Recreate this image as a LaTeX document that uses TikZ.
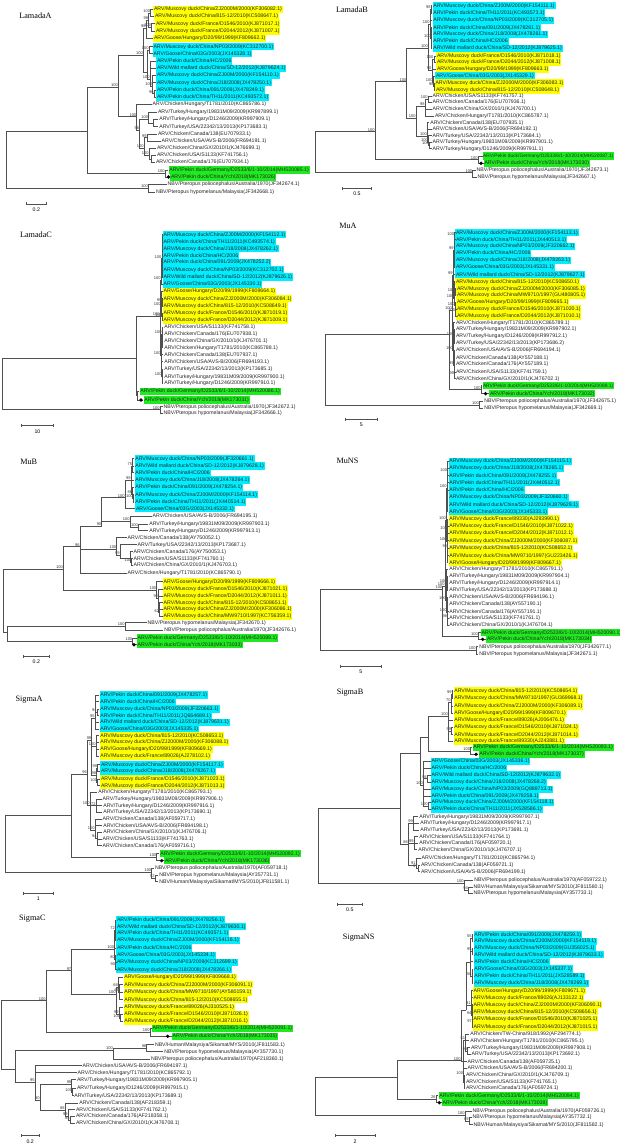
\documentclass[tikz,border=0pt]{standalone}
\usepackage{fontspec}
\setmainfont{Liberation Serif}
\newfontfamily\labfont{Liberation Sans}
\definecolor{Y}{RGB}{255,255,0}
\definecolor{C}{RGB}{0,238,255}
\definecolor{G}{RGB}{30,235,30}
\definecolor{brc}{RGB}{80,80,80}
\newcommand\lab{\labfont\fontsize{5.2}{6}\selectfont}
\newcommand\labn{\labfont\fontsize{4.85}{6}\selectfont}
\newcommand\bsf{\labfont\fontsize{4}{4.5}\selectfont}
\tikzset{
 lf/.style={anchor=west,inner xsep=0.8pt,inner ysep=1.1pt,text height=3.9pt,text depth=1.1pt,font=\lab,text=black!85},
 narrow/.style={font=\labn,inner xsep=0.5pt},
 br/.style={draw=brc,line width=0.5pt},
 bs/.style={anchor=south east,inner sep=0.3pt,font=\bsf,text=black!80},
 ttl/.style={font=\fontsize{8.2}{9}\selectfont},
 sclab/.style={anchor=north,inner sep=0.5pt,font=\lab},
}
\newcommand\Lf[5]{\node[lf,fill=#4] (#1) at (#2,#3) {#5};}
\newcommand\LfN[5]{\node[lf,narrow,fill=#4] (#1) at (#2,#3) {#5};}
\newcommand\Nd[4]{\coordinate (#1) at (#2,#3); \node[bs] (#1-b) at (#1) {#4};}
\newcommand\Br[2]{\foreach \ch in {#2}{\draw[br] (#1) |- (\ch);}}
\newcommand\Dt[2]{\fill (#1,#2) circle[radius=1.8pt];}
\newcommand\Sc[5]{\draw[br] (#1,#3) -- (#2,#3); \draw[br] (#1,#3-1.5) -- (#1,#3+1.5); \draw[br] (#2,#3-1.5) -- (#2,#3+1.5); \node[sclab] (#5) at ({(#1+#2)/2},#3+3) {#4};}
\begin{document}
\begin{tikzpicture}[x=1pt,y=-1pt]
\fill[white] (0,0) rectangle (619,1147);
\useasboundingbox (0,0) rectangle (619,1147);
% ================= LamadaA =================
\node[ttl] (tA) at (35.5,16) {LamadaA};
\Lf{a1}{153}{9.5}{Y}{ARV/Muscovy duck/China/ZJ2000M/2000(KF306082.1)}
\Lf{a2}{154}{16.5}{Y}{ARV/Muscovy duck/China/815-12/2010(KC508647.1)}
\Lf{a3}{155}{23.7}{Y}{ARV/Muscovy duck/France/D1546/2010(KJ871017.1)}
\Lf{a4}{155}{31}{Y}{ARV/Muscovy duck/France/D2044/2012(KJ871007.1)}
\Lf{a5}{153}{38.5}{Y}{ARV/Goose/Hungary/D20/99/1999(KF809662.1)}
\Lf{a6}{152.5}{46.7}{C}{ARV/Muscovy duck/China/NP03/2009(KC312700.1)}
\Lf{a7}{152.5}{53.7}{C}{ARV/Goose/China/03G/2003(JX145328.1)}
\Lf{a8}{156}{61}{C}{ARV/Pekin duck/China/HC/2006}
\Lf{a9}{156}{68.3}{C}{ARV/Wild mallard duck/China/SD-12/2012(KJ879624.1)}
\Lf{a10}{156}{75.3}{C}{ARV/Muscovy duck/China/ZJ00M/2000(KF154110.1)}
\Lf{a11}{156}{82.7}{C}{ARV/Muscovy duck/China/J18/2008(JX478250.1)}
\Lf{a12}{156}{90}{C}{ARV/Pekin duck/China/091/2009(JX478249.1)}
\Lf{a13}{156}{97.3}{C}{ARV/Pekin duck/China/TH11/2011(KC493572.1)}
\Lf{a14}{151.7}{104.3}{none}{ARV/Chicken/Hungary/T1781/2010(KC865786.1)}
\Lf{a15}{157}{112.3}{none}{ARV/Turkey/Hungary/19831M09/2009(KR997899.1)}
\Lf{a16}{158.3}{119.3}{none}{ARV/Turkey/Hungary/D1246/2009(KR997909.1)}
\Lf{a17}{158.3}{126.7}{none}{ARV/Turkey/USA/22342/13/2013(KP173683.1)}
\Lf{a18}{157}{134}{none}{ARV/Chicken/Canada/138(EU707933.1)}
\Lf{a19}{160.7}{141.3}{none}{ARV/Chicken/USA/AVS-B/2006(FR694191.1)}
\Lf{a20}{156}{148}{none}{ARV/Chicken/China/GX/2010/1(KJ476699.1)}
\Lf{a21}{156}{155.3}{none}{ARV/Chicken/USA/S1133(KF741756.1)}
\Lf{a22}{155}{162.3}{none}{ARV/Chicken/Canada/176(EU707934.1)}
\Lf{a23}{168.3}{170}{G}{ARV/Pekin duck/Germany/D2533/6/1-10/2014(MH520085.1)}
\Lf{a24}{170}{177}{G}{ARV/Pekin duck/China/Ych/2018(MK173026)}
\Lf{a25}{166.7}{184.3}{none}{NBV/Pteropus poliocephalus/Australia/1970(JF342674.1)}
\Lf{a26}{155}{192}{none}{NBV/Pteropus hypomelanus/Malaysia(JF342668.1)}
\Nd{aR}{6}{160}{}
\Nd{aNB}{148.3}{188}{100}
\Nd{aN1}{87.3}{131.7}{}
\Nd{aG}{165}{173.5}{100}
\Nd{aN2}{118.3}{87.3}{100}
\Nd{aD}{143.3}{55}{100}
\Nd{aY}{146}{28}{98}
\Nd{aY1}{148.5}{20}{98}
\Nd{aY2}{150.5}{13}{100}
\Nd{aY3}{151.5}{27.4}{100}
\Nd{aCy}{147}{72}{}
\Nd{aCy1}{149}{50.2}{100}
\Nd{aCy2}{150}{79}{100}
\Nd{aCy3}{152.5}{86}{100}
\Nd{aCy4}{154}{93.7}{96}
\Nd{aK}{136.7}{116.7}{100}
\Nd{aK2}{139.5}{130}{96}
\Nd{aT}{148.5}{119}{100}
\Nd{aT2}{153}{123}{}
\Nd{aC}{144}{148}{100}
\Nd{aC1}{147}{137.7}{99}
\Nd{aC2}{149}{155}{100}
\Nd{aC3}{151.5}{158.8}{}
\Br{aR}{aN1,aNB}
\Br{aNB}{a25,a26}
\Br{aN1}{aN2,aG}
\Br{aG}{a23,a24}
\Br{aN2}{aD,aK}
\Br{aD}{aY,aCy}
\Br{aY}{aY1,a5}
\Br{aY1}{aY2,aY3}
\Br{aY2}{a1,a2}
\Br{aY3}{a3,a4}
\Br{aCy}{aCy1,aCy2}
\Br{aCy1}{a6,a7}
\Br{aCy2}{a8,a9,aCy3}
\Br{aCy3}{a10,a11,aCy4}
\Br{aCy4}{a12,a13}
\Br{aK}{a14,aK2}
\Br{aK2}{aT,aC}
\Br{aT}{a15,aT2}
\Br{aT2}{a16,a17}
\Br{aC}{aC1,aC2}
\Br{aC1}{a18,a19}
\Br{aC2}{a20,aC3}
\Br{aC3}{a21,a22}
\Dt{168.5}{177}
\Sc{26}{46.7}{204}{0.2}{sA}
% ================= LamadaB =================
\node[ttl] (tB) at (352,10) {LamadaB};
\Lf{b1}{432.3}{5.7}{C}{ARV/Muscovy duck/China/ZJ00M/2000(KF154111.1)}
\Lf{b2}{432.3}{13}{C}{ARV/Pekin duck/China/TH11/2011(KC493573.1)}
\Lf{b3}{432.3}{20.3}{C}{ARV/Muscovy duck/China/NP03/2009(KC312705.1)}
\Lf{b4}{432.3}{27.7}{C}{ARV/Pekin duck/China/091/2009(JX478261.1)}
\Lf{b5}{432.3}{34.5}{C}{ARV/Muscovy duck/China/J18/2008(JX478261.1)}
\Lf{b6}{432.3}{41.3}{C}{ARV/Pekin duck/China/HC/2006}
\Lf{b7}{432.3}{48.3}{C}{ARV/Wild mallard duck/China/SD-12/2012(KJ879625.1)}
\Lf{b8}{436}{56}{Y}{ARV/Muscovy duck/France/D1546/2010(KJ871018.1)}
\Lf{b9}{436}{62.5}{Y}{ARV/Muscovy duck/France/D2044/2012(KJ871008.1)}
\Lf{b10}{436}{69}{Y}{ARV/Goose/Hungary/D20/99/1999(KF809663.1)}
\Lf{b11}{435}{75.8}{C}{ARV/Goose/China/03G/2003(JX145329.1)}
\Lf{b12}{434.5}{83}{Y}{ARV/Muscovy duck/China/ZJ2000M/2000(KF306083.1)}
\Lf{b13}{435}{90}{Y}{ARV/Muscovy duck/China/815-12/2010(KC508648.1)}
\Lf{b14}{431.7}{96.3}{none}{ARV/Chicken/USA/S1133(KF741757.1)}
\Lf{b15}{431.7}{102.6}{none}{ARV/Chicken/Canada/176(EU707936.1)}
\Lf{b16}{431.7}{109.3}{none}{ARV/Chicken/China/GX/2010/1(KJ476700.1)}
\Lf{b17}{434}{116}{none}{ARV/Chicken/Hungary/T1781/2010(KC865787.1)}
\Lf{b18}{429.3}{122.7}{none}{ARV/Chicken/Canada/138(EU707935.1)}
\Lf{b19}{431.7}{129.3}{none}{ARV/Chicken/USA/AVS-B/2006(FR694192.1)}
\Lf{b20}{431.7}{135.7}{none}{ARV/Turkey/USA/22342/13/2013(KP173684.1)}
\Lf{b21}{431.7}{142.3}{none}{ARV/Turkey/Hungary/19831M09/2009(KR997901.1)}
\Lf{b22}{431.7}{148.7}{none}{ARV/Turkey/Hungary/D1246/2009(KR997911.1)}
\LfN{b23}{482.5}{156}{G}{ARV/Pekin duck/Germany/D2533/6/1-10/2014(MH520087.1)}
\Lf{b24}{483.5}{163.3}{G}{ARV/Pekin duck/China/Ych/2018(MK173030)}
\Lf{b25}{475.7}{170}{none}{NBV/Pteropus poliocephalus/Australia/1970(JF342673.1)}
\Lf{b26}{476.7}{177}{none}{NBV/Pteropus hypomelanus/Malaysia(JF342667.1)}
\Nd{bR}{315}{150}{}
\Nd{bNB}{472.7}{172.7}{100}
\Nd{bN1}{375}{131.7}{100}
\Nd{bG}{478}{159.7}{100}
\Nd{bN2}{406.7}{81.7}{100}
\Nd{bD}{428.3}{48.3}{100}
\Nd{bC1}{430}{24}{100}
\Nd{bC2}{431}{9.3}{98}
\Nd{bC3}{431.3}{38}{100}
\Nd{bYC}{431.8}{70}{90}
\Nd{bY1}{433.8}{59.2}{100}
\Nd{bY2}{433}{82.5}{100}
\Nd{bY3}{434}{86.5}{98}
\Nd{bK}{416}{118.3}{100}
\Nd{bK1}{425}{106}{98}
\Nd{bK3}{428}{99.5}{100}
\Nd{bK2}{427.3}{136}{100}
\Nd{bT}{428.3}{142}{100}
\Nd{bT2}{429.3}{145.5}{100}
\Br{bR}{bN1,bNB}
\Br{bNB}{b25,b26}
\Br{bN1}{bN2,bG}
\Br{bG}{b23,b24}
\Br{bN2}{bD,bK}
\Br{bD}{bC1,bYC}
\Br{bC1}{bC2,b3,bC3}
\Br{bC2}{b1,b2}
\Br{bC3}{b4,b5,b6,b7}
\Br{bYC}{bY1,b10,bY2}
\Br{bY1}{b8,b9}
\Br{bY2}{b11,bY3}
\Br{bY3}{b12,b13}
\Br{bK}{bK1,bK2}
\Br{bK1}{bK3,b16,b17}
\Br{bK3}{b14,b15}
\Br{bK2}{b18,b19,bT}
\Br{bT}{b20,bT2}
\Br{bT2}{b21,b22}
\Dt{481}{163.3}
\Sc{342.3}{371.7}{188.3}{0.5}{sB}
% ================= LamadaC =================
\node[ttl] (tC) at (36,234.7) {LamadaC};
\Lf{c1}{162.7}{234.7}{C}{ARV/Muscovy duck/China/ZJ00M/2000(KF154112.1)}
\Lf{c2}{162.7}{241.7}{C}{ARV/Pekin duck/China/TH11/2011(KC493574.1)}
\Lf{c3}{162.7}{248.7}{C}{ARV/Muscovy duck/China/J18/2008(JX478262.1)}
\Lf{c4}{162.7}{255.7}{C}{ARV/Pekin duck/China/HC/2006}
\Lf{c5}{162.7}{262.5}{C}{ARV/Pekin duck/China/091/2009(JX478252.2)}
\Lf{c6}{162.7}{269.7}{C}{ARV/Muscovy duck/China/NP03/2009(KC312702.1)}
\Lf{c7}{162.7}{277}{C}{ARV/Wild mallard duck/China/SD-12/2012(KJ879626.1)}
\Lf{c8}{162.7}{284}{C}{ARV/Goose/China/03G/2003(JX145330.1)}
\Lf{c9}{162.7}{291.3}{Y}{ARV/Goose/Hungary/D20/99/1999(KF809664.1)}
\Lf{c10}{162.7}{298.7}{Y}{ARV/Muscovy duck/China/ZJ2000M/2000(KF306084.1)}
\Lf{c11}{162.7}{306}{Y}{ARV/Muscovy duck/China/815-12/2010(KC508649.1)}
\Lf{c12}{162.7}{313.3}{Y}{ARV/Muscovy duck/France/D1546/2010(KJ871019.1)}
\Lf{c13}{162.7}{320.3}{Y}{ARV/Muscovy duck/France/D2044/2012(KJ871009.1)}
\Lf{c14}{163.3}{327.3}{none}{ARV/Chicken/USA/S1133(KF741758.1)}
\Lf{c15}{163.3}{334}{none}{ARV/Chicken/Canada/176(EU707938.1)}
\Lf{c16}{163.3}{341}{none}{ARV/Chicken/China/GX/2010/1(KJ476701.1)}
\Lf{c17}{163.3}{347.7}{none}{ARV/Chicken/Hungary/T1781/2010(KC865788.1)}
\Lf{c18}{163.3}{354.7}{none}{ARV/Chicken/Canada/138(EU707937.1)}
\Lf{c19}{163.3}{361.7}{none}{ARV/Chicken/USA/AVS-B/2006(FR694193.1)}
\Lf{c20}{163.3}{369.3}{none}{ARV/Turkey/USA/22342/13/2013(KP173685.1)}
\Lf{c21}{163.3}{376.7}{none}{ARV/Turkey/Hungary/19831M09/2009(KR997900.1)}
\Lf{c22}{163.3}{383.3}{none}{ARV/Turkey/Hungary/D1246/2009(KR997910.1)}
\Lf{c23}{139.3}{391.5}{G}{ARV/Pekin duck/Germany/D2533/6/1-10/2014(MH520086.1)}
\Lf{c24}{143.3}{400}{G}{ARV/Pekin duck/China/Ych/2018(MK173031)}
\Lf{c25}{162.7}{406.7}{none}{NBV/Pteropus poliocephalus/Australia/1970(JF342672.1)}
\Lf{c26}{162.7}{413.3}{none}{NBV/Pteropus hypomelanus/Malaysia(JF342666.1)}
\Nd{cR}{2.7}{380}{}
\Nd{cNB}{160}{409.7}{100}
\Nd{cN1}{136}{358}{}
\Nd{cG}{137.5}{395.5}{}
\Nd{cN2}{160}{316.3}{100}
\Nd{cD}{161}{280}{100}
\Nd{cC}{161.8}{258.7}{100}
\Nd{cY}{161}{306}{100}
\Nd{cY1}{161.8}{302}{99}
\Nd{cY2}{162.2}{316.7}{100}
\Nd{cK}{161}{355}{100}
\Nd{cK1}{162}{334}{100}
\Nd{cK2}{162}{376}{100}
\Br{cR}{cN1,cNB}
\Br{cNB}{c25,c26}
\Br{cN1}{cN2,cG}
\Br{cG}{c23,c24}
\Br{cN2}{cD,cY,cK}
\Br{cD}{cC,c8}
\Br{cC}{c1,c2,c3,c4,c5,c6,c7}
\Br{cY}{c9,cY1,cY2}
\Br{cY1}{c10,c11}
\Br{cY2}{c12,c13}
\Br{cK}{cK1,c18,c19,cK2}
\Br{cK1}{c14,c15,c16,c17}
\Br{cK2}{c20,c21,c22}
\Dt{141}{400}
\Sc{21.7}{53.3}{425.7}{10}{sC}
% ================= MuA =================
\node[ttl] (tD) at (348,226) {MuA};
\Lf{m1}{455}{232.7}{C}{ARV/Muscovy duck/China/ZJ00M/2000(KF154113.1)}
\Lf{m2}{455}{239.7}{C}{ARV/Pekin duck/China/TH11/2011(JX440513.1)}
\Lf{m3}{455}{246.3}{C}{ARV/Muscovy duck/China/NP03/2009(JF320662.1)}
\Lf{m4}{455}{253}{C}{ARV/Pekin duck/China/HC/2006}
\Lf{m5}{455}{260.3}{C}{ARV/Muscovy duck/China/J18/2008(JX478263.1)}
\Lf{m6}{455}{267.3}{C}{ARV/Goose/China/03G/2003(JX145331.1)}
\Lf{m7}{455}{274.7}{C}{ARV/Wild mallard duck/China/SD-12/2012(KJ879627.1)}
\Lf{m8}{455}{281.7}{Y}{ARV/Muscovy duck/China/815-12/2010(KC508650.1)}
\Lf{m9}{456}{288.7}{Y}{ARV/Muscovy duck/China/ZJ2000M/2000(KF306085.1)}
\Lf{m10}{456}{295.3}{Y}{ARV/Muscovy duck/China/MW9710/1997(GU480805.1)}
\Lf{m11}{456}{302.3}{Y}{ARV/Goose/Hungary/D20/99/1999(KF809665.1)}
\Lf{m12}{456}{309}{Y}{ARV/Muscovy duck/France/D1546/2010(KJ871020.1)}
\Lf{m13}{456}{316}{Y}{ARV/Muscovy duck/France/D2044/2012(KJ871010.1)}
\Lf{m14}{455}{322.7}{none}{ARV/Chicken/Hungary/T1781/2010(KC865789.1)}
\Lf{m15}{455}{329.3}{none}{ARV/Turkey/Hungary/19831M09/2009(KR997902.1)}
\Lf{m16}{455}{336.3}{none}{ARV/Turkey/Hungary/D1246/2009(KR997912.1)}
\Lf{m17}{455}{343.3}{none}{ARV/Turkey/USA/22342/13/2013(KP173686.2)}
\Lf{m18}{455}{350.3}{none}{ARV/Chicken/USA/AVS-B/2006(FR694194.1)}
\Lf{m19}{455}{357.7}{none}{ARV/Chicken/Canada/138(AY557188.1)}
\Lf{m20}{455}{364.3}{none}{ARV/Chicken/Canada/176(AY557189.1)}
\Lf{m21}{455}{372}{none}{ARV/Chicken/USA/S1133(KF741759.1)}
\Lf{m22}{455}{378.7}{none}{ARV/Chicken/China/GX/2010/1(KJ476702.1)}
\LfN{m23}{482.3}{385.7}{G}{ARV/Pekin duck/Germany/D2533/6/1-10/2014(MH520089.1)}
\Lf{m24}{489}{393.7}{G}{ARV/Pekin duck/China/Ych/2018(MK173032)}
\Lf{m25}{483.3}{401.3}{none}{NBV/Pteropus poliocephalus/Australia/1970(JF342675.1)}
\Lf{m26}{483.3}{408.3}{none}{NBV/Pteropus hypomelanus/Malaysia(JF342669.1)}
\Nd{mR}{325.7}{370}{}
\Nd{mNB}{479.3}{404.8}{100}
\Nd{mN1}{449.3}{334}{}
\Nd{mG}{481}{389.7}{100}
\Nd{mN2}{452.3}{310}{100}
\Nd{mD}{453}{275}{99}
\Nd{mC}{454}{250}{99}
\Nd{mC1}{454.5}{236}{100}
\Nd{mY}{454}{298}{100}
\Nd{mY1}{455}{292}{100}
\Nd{mY2}{455}{305.7}{100}
\Nd{mY3}{455.5}{312.5}{100}
\Nd{mK}{453.3}{350}{100}
\Nd{mK1}{454}{336}{100}
\Nd{mK2}{454}{365}{99}
\Nd{mK3}{454.5}{375.3}{99}
\Br{mR}{mN1,mNB}
\Br{mNB}{m25,m26}
\Br{mN1}{mN2,mG}
\Br{mG}{m23,m24}
\Br{mN2}{mD,mK}
\Br{mD}{mC,m7,mY}
\Br{mC}{mC1,m3,m4,m5,m6}
\Br{mC1}{m1,m2}
\Br{mY}{m8,mY1,mY2}
\Br{mY1}{m9,m10}
\Br{mY2}{m11,mY3}
\Br{mY3}{m12,m13}
\Br{mK}{m14,mK1,mK2}
\Br{mK1}{m15,m16,m17}
\Br{mK2}{m18,m19,m20,mK3}
\Br{mK3}{m21,m22}
\Dt{485.5}{393.7}
\Sc{345}{377.7}{419.7}{5}{sD}
% ================= MuB =================
\node[ttl] (tE) at (28.7,462) {MuB};
\Lf{n1}{134.3}{458.7}{C}{ARV/Muscovy duck/China/NP03/2009(JF320661.1)}
\Lf{n2}{134.3}{466}{C}{ARV/Wild mallard duck/China/SD-12/2012(KJ879628.1)}
\Lf{n3}{134.3}{472.7}{C}{ARV/Pekin duck/China/HC/2006}
\Lf{n4}{134.3}{480}{C}{ARV/Muscovy duck/China/J18/2008(JX478264.1)}
\Lf{n5}{134.3}{487.3}{C}{ARV/Pekin duck/China/091/2009(JX478254.1)}
\Lf{n6}{134.3}{494.7}{C}{ARV/Muscovy duck/China/ZJ00M/2000(KF154114.1)}
\Lf{n7}{134.3}{502}{C}{ARV/Pekin duck/China/TH11/2011(JX440514.1)}
\Lf{n8}{135}{508.7}{C}{ARV/Goose/China/03G/2003(JX145332.1)}
\Lf{n9}{151.7}{516}{none}{ARV/Chicken/USA/AVS-B/2006(FR694195.1)}
\Lf{n10}{148.3}{524.3}{none}{ARV/Turkey/Hungary/19831M09/2009(KR997903.1)}
\Lf{n11}{148.3}{530.7}{none}{ARV/Turkey/Hungary/D1246/2009(KR997913.1)}
\Lf{n12}{126.7}{537.7}{none}{ARV/Chicken/Canada/138(AY750052.1)}
\Lf{n13}{136.7}{544.7}{none}{ARV/Turkey/USA/22342/13/2013(KP173687.1)}
\Lf{n14}{132.7}{551.7}{none}{ARV/Chicken/Canada/176(AY750053.1)}
\Lf{n15}{132.7}{558.7}{none}{ARV/Chicken/USA/S1133(KF741760.1)}
\Lf{n16}{132.7}{565.3}{none}{ARV/Chicken/China/GX/2010/1(KJ476703.1)}
\Lf{n17}{126.7}{573.3}{none}{ARV/Chicken/Hungary/T1781/2010(KC865790.1)}
\Lf{n18}{162.7}{581.7}{Y}{ARV/Goose/Hungary/D20/99/1999(KF809666.1)}
\Lf{n19}{162.7}{589}{Y}{ARV/Muscovy duck/France/D1546/2010(KJ871021.1)}
\Lf{n20}{162.7}{596}{Y}{ARV/Muscovy duck/France/D2044/2012(KJ871011.1)}
\Lf{n21}{162.7}{602.7}{Y}{ARV/Muscovy duck/China/815-12/2010(KC508651.1)}
\Lf{n22}{162.7}{609.3}{Y}{ARV/Muscovy duck/China/ZJ2000M/2000(KF306086.1)}
\Lf{n23}{162.7}{616}{Y}{ARV/Muscovy duck/China/MW9710/1997(KC756359.1)}
\Lf{n24}{146.7}{622.7}{none}{NBV/Pteropus hypomelanus/Malaysia(JF342670.1)}
\Lf{n25}{163.3}{630}{none}{NBV/Pteropus poliocephalus/Australia/1970(JF342676.1)}
\Lf{n26}{136.7}{638}{G}{ARV/Pekin duck/Germany/D2533/6/1-10/2014(MH520089.1)}
\Lf{n27}{136.7}{644.7}{G}{ARV/Pekin duck/China/Ych/2018(MK173033)}
\Nd{nR}{3.3}{600}{}
\Nd{nA}{63.3}{569.3}{100}
\Nd{nL}{7.3}{632.7}{}
\Nd{nB}{80}{546.7}{96}
\Nd{nC}{101.7}{526}{90}
\Nd{nCy}{125}{497.7}{100}
\Nd{nCy1}{131}{480}{99}
\Nd{nCy2}{132.5}{466}{75}
\Nd{nCy3}{132.5}{494}{86}
\Nd{nCy4}{133.3}{498.3}{100}
\Nd{nT}{130}{521}{100}
\Nd{nT2}{138.3}{527.5}{100}
\Nd{nK}{116.7}{549}{100}
\Nd{nK1}{120}{555}{99}
\Nd{nK2}{130}{558.7}{}
\Nd{nK3}{131.7}{562}{100}
\Nd{nY}{156.7}{590}{100}
\Nd{nY1}{158.5}{598}{92}
\Nd{nY2}{159.5}{612.7}{62}
\Nd{nNB}{125}{626}{100}
\Nd{nG}{132.7}{641.3}{100}
\Br{nR}{nA,nL}
\Br{nA}{nB,nY}
\Br{nB}{nC,nK,n17}
\Br{nC}{nCy,nT}
\Br{nCy}{nCy1,n8}
\Br{nCy1}{nCy2,n4,nCy3}
\Br{nCy2}{n1,n2,n3}
\Br{nCy3}{n5,nCy4}
\Br{nCy4}{n6,n7}
\Br{nT}{n9,nT2}
\Br{nT2}{n10,n11}
\Br{nK}{n12,nK1}
\Br{nK1}{n13,nK2}
\Br{nK2}{n14,nK3}
\Br{nK3}{n15,n16}
\Br{nY}{n18,nY1}
\Br{nY1}{n19,n20,nY2}
\Br{nY2}{n21,n22,n23}
\Br{nL}{nNB,nG}
\Br{nNB}{n24,n25}
\Br{nG}{n26,n27}
\Dt{134}{644.7}
\Sc{23.3}{49.3}{656}{0.2}{sE}
% ================= MuNS =================
\node[ttl] (tF) at (347.5,460.7) {MuNS};
\Lf{s1}{448.3}{461.3}{C}{ARV/Muscovy duck/China/ZJ00M/2000(KF154115.1)}
\Lf{s2}{448.3}{468.3}{C}{ARV/Muscovy duck/China/J18/2008(JX478265.1)}
\Lf{s3}{448.3}{475.7}{C}{ARV/Pekin duck/China/091/2009(JX478255.1)}
\Lf{s4}{448.3}{482.7}{C}{ARV/Pekin duck/China/TH11/2011(JX440512.1)}
\Lf{s5}{448.3}{490}{C}{ARV/Pekin duck/China/HC/2006}
\Lf{s6}{448.3}{497.3}{C}{ARV/Muscovy duck/China/NP03/2009(JF320660.1)}
\Lf{s7}{448.3}{504.7}{C}{ARV/Wild mallard duck/China/SD-12/2012(KJ879629.1)}
\Lf{s8}{448.3}{511.7}{C}{ARV/Goose/China/03G/2003(JX145333.1)}
\Lf{s9}{448.3}{519}{Y}{ARV/Muscovy duck/France/89330(AJ293990.1)}
\Lf{s10}{448.3}{526.3}{Y}{ARV/Muscovy duck/France/D1546/2010(KJ871022.1)}
\Lf{s11}{448.3}{533.3}{Y}{ARV/Muscovy duck/France/D2044/2012(KJ871012.1)}
\Lf{s12}{448.3}{540.7}{Y}{ARV/Muscovy duck/China/ZJ2000M/2000(KF306087.1)}
\Lf{s13}{448.3}{548.3}{Y}{ARV/Muscovy duck/China/815-12/2010(KC508652.1)}
\Lf{s14}{448.3}{555.7}{Y}{ARV/Muscovy duck/China/MW9710/1997(GU223426.1)}
\Lf{s15}{448.3}{562.7}{Y}{ARV/Goose/Hungary/D20/99/1999(KF809667.1)}
\Lf{s16}{448.3}{569}{none}{ARV/Chicken/Hungary/T1781/2010(KC865791.1)}
\Lf{s17}{448.3}{576}{none}{ARV/Turkey/Hungary/19831M09/2009(KR997904.1)}
\Lf{s18}{448.3}{582.7}{none}{ARV/Turkey/Hungary/D1246/2009(KR997914.1)}
\Lf{s19}{448.3}{590}{none}{ARV/Turkey/USA/22342/13/2013(KP173688.1)}
\Lf{s20}{448.3}{597.3}{none}{ARV/Chicken/USA/AVS-B/2006(FR694196.1)}
\Lf{s21}{448.3}{604.3}{none}{ARV/Chicken/Canada/138(AY557190.1)}
\Lf{s22}{448.3}{611.7}{none}{ARV/Chicken/Canada/176(AY557191.1)}
\Lf{s23}{448.3}{618.3}{none}{ARV/Chicken/USA/S1133(KF741761.1)}
\Lf{s24}{448.3}{625}{none}{ARV/Chicken/China/GX/2010/1(KJ476704.1)}
\Lf{s25}{480.7}{632.7}{G}{ARV/Pekin duck/Germany/D2533/6/1-10/2014(MH520090.1)}
\Lf{s26}{486}{639.3}{G}{ARV/Pekin duck/China/Ych/2018(MK173034)}
\Lf{s27}{478.3}{646.7}{none}{NBV/Pteropus poliocephalus/Australia/1970(JF342677.1)}
\Lf{s28}{478.3}{654}{none}{NBV/Pteropus hypomelanus/Malaysia(JF342671.1)}
\Nd{sR}{320}{620}{}
\Nd{sNB}{476}{650}{100}
\Nd{sN1}{442.7}{589.3}{100}
\Nd{sG}{478.3}{636}{100}
\Nd{sN2}{445}{586}{100}
\Nd{sD}{446.3}{520}{100}
\Nd{sC}{447}{488}{100}
\Nd{sC1}{447.5}{472}{100}
\Nd{sY}{447}{541}{100}
\Nd{sY1}{447.6}{530}{100}
\Nd{sY2}{447.6}{548}{96}
\Nd{sK}{446.3}{600}{100}
\Nd{sK1}{447}{583}{100}
\Nd{sK2}{447}{612}{100}
\Nd{sK3}{447.5}{618}{98}
\Br{sR}{sN1,sNB}
\Br{sNB}{s27,s28}
\Br{sN1}{sN2,sG}
\Br{sG}{s25,s26}
\Br{sN2}{sD,sK}
\Br{sD}{sC,sY}
\Br{sC}{sC1,s6,s7,s8}
\Br{sC1}{s1,s2,s3,s4,s5}
\Br{sY}{s9,sY1,sY2,s15}
\Br{sY1}{s10,s11}
\Br{sY2}{s12,s13,s14}
\Br{sK}{s16,sK1,sK2}
\Br{sK1}{s17,s18,s19}
\Br{sK2}{s20,s21,sK3}
\Br{sK3}{s22,s23,s24}
\Dt{482.7}{639.3}
\Sc{340}{381.7}{666}{5}{sF}
% ================= SigmaA =================
\node[ttl] (tG) at (29,700) {SigmaA};
\Lf{p1}{99.3}{695}{C}{ARV/Pekin duck/China/091/2009(JX478257.1)}
\Lf{p2}{99.3}{701.7}{C}{ARV/Pekin duck/China/HC/2006}
\Lf{p3}{99.3}{709}{C}{ARV/Muscovy duck/China/NP03/2009(JF320663.1)}
\Lf{p4}{99.3}{715.7}{C}{ARV/Pekin duck/China/TH11/2011(JQ664689.1)}
\Lf{p5}{99.3}{722.3}{C}{ARV/Wild mallard duck/China/SD-12/2012(KJ879631.1)}
\Lf{p6}{99.3}{729}{C}{ARV/Goose/China/03G/2003(JX145335.1)}
\Lf{p7}{99.3}{735.7}{Y}{ARV/Muscovy duck/China/815-12/2010(KC508653.1)}
\Lf{p8}{99.3}{742.3}{Y}{ARV/Muscovy duck/China/ZJ2000M/2000(KF306088.1)}
\Lf{p9}{99.3}{749}{Y}{ARV/Goose/Hungary/D20/99/1999(KF809669.1)}
\Lf{p10}{99.3}{756}{Y}{ARV/Muscovy duck/France/89026(AJ278102.1)}
\Lf{p11}{100}{764.7}{C}{ARV/Muscovy duck/China/ZJ00M/2000(KF154117.1)}
\Lf{p12}{100}{771.3}{C}{ARV/Muscovy duck/China/J18/2008(JX478267.1)}
\Lf{p13}{100}{779}{Y}{ARV/Muscovy duck/France/D1546/2010(KJ871023.1)}
\Lf{p14}{100}{785.7}{Y}{ARV/Muscovy duck/France/D2044/2012(KJ871013.1)}
\Lf{p15}{97.3}{792.3}{none}{ARV/Chicken/Hungary/T1781/2010(KC865793.1)}
\Lf{p16}{101.7}{799}{none}{ARV/Turkey/Hungary/19831M09/2009(KR997906.1)}
\Lf{p17}{102.3}{805.7}{none}{ARV/Turkey/Hungary/D1246/2009(KR997916.1)}
\Lf{p18}{102.3}{812.3}{none}{ARV/Turkey/USA/22342/13/2013(KP173690.1)}
\Lf{p19}{101.7}{819}{none}{ARV/Chicken/Canada/138(AF059717.1)}
\Lf{p20}{102.3}{825.7}{none}{ARV/Chicken/USA/AVS-B/2006(FR694198.1)}
\Lf{p21}{102.3}{832.3}{none}{ARV/Chicken/China/GX/2010/1(KJ476706.1)}
\Lf{p22}{101.7}{839}{none}{ARV/Chicken/USA/S1133(KF741763.1)}
\Lf{p23}{101.7}{845.7}{none}{ARV/Chicken/Canada/176(AF059716.1)}
\Lf{p24}{159.3}{853.7}{G}{ARV/Pekin duck/Germany/D2533/6/1-10/2014(MH520092.1)}
\Lf{p25}{164}{860.7}{G}{ARV/Pekin duck/China/Ych/2018(MK173036)}
\Lf{p26}{154}{868.3}{none}{NBV/Pteropus poliocephalus/Australia/1970(AF059718.1)}
\Lf{p27}{158.3}{875}{none}{NBV/Pteropus hypomelanus/Malaysia(AY357731.1)}
\Lf{p28}{158.3}{881.7}{none}{NBV/Human/Malaysiya/Sikamat/MYS/2010(JF811581.1)}
\Nd{pR}{5}{840}{}
\Nd{pNB}{151.7}{872.3}{100}
\Nd{pNB1}{155}{878.3}{52}
\Nd{pN1}{71.7}{815.7}{}
\Nd{pG}{156.7}{857}{100}
\Nd{pN2}{87.3}{774}{96}
\Nd{pD}{91.7}{740}{99}
\Nd{pC}{95}{718}{95}
\Nd{pC1}{97}{712.3}{94}
\Nd{pY}{96}{746}{100}
\Nd{pX}{96.5}{775}{98}
\Nd{pX1}{97.5}{768}{99}
\Nd{pX2}{97.5}{782.3}{100}
\Nd{pK}{90}{805}{100}
\Nd{pT}{96}{805.7}{72}
\Nd{pC2}{95}{830}{100}
\Nd{pC3}{97}{838}{94}
\Br{pR}{pN1,pNB}
\Br{pNB}{p26,pNB1}
\Br{pNB1}{p27,p28}
\Br{pN1}{pN2,pG}
\Br{pG}{p24,p25}
\Br{pN2}{pD,pK}
\Br{pD}{pC,pY,pX}
\Br{pC}{p1,p2,pC1,p5,p6}
\Br{pC1}{p3,p4}
\Br{pY}{p7,p8,p9,p10}
\Br{pX}{pX1,pX2}
\Br{pX1}{p11,p12}
\Br{pX2}{p13,p14}
\Br{pK}{p15,pT,pC2}
\Br{pT}{p16,p17,p18}
\Br{pC2}{p19,p20,pC3}
\Br{pC3}{p21,p22,p23}
\Dt{161.7}{860.7}
\Sc{23.3}{53.3}{893}{1}{sG}
% ================= SigmaB =================
\node[ttl] (tH) at (350,692.3) {SigmaB};
\Lf{q1}{453.3}{690.7}{Y}{ARV/Muscovy duck/China/815-12/2010(KC508654.1)}
\Lf{q2}{453.3}{698}{Y}{ARV/Muscovy duck/China/MW9710/1997(GU369968.1)}
\Lf{q3}{453.3}{706}{Y}{ARV/Muscovy duck/China/ZJ2000M/2000(KF306089.1)}
\Lf{q4}{453.3}{713}{Y}{ARV/Goose/Hungary/D20/99/1999(KF809670.1)}
\Lf{q5}{453.3}{720}{Y}{ARV/Muscovy duck/France/89026(AJ006476.1)}
\Lf{q6}{453.3}{727.3}{Y}{ARV/Muscovy duck/France/D1546/2010(KJ871024.1)}
\Lf{q7}{453.3}{734.7}{Y}{ARV/Muscovy duck/France/D2044/2012(KJ871014.1)}
\Lf{q8}{453.3}{741.3}{Y}{ARV/Muscovy duck/France/89330(AJ243881.1)}
\Lf{q9}{472.3}{747.5}{G}{ARV/Pekin duck/Germany/D2533/6/1-10/2014(MH520093.1)}
\Lf{q10}{478.3}{754.3}{G}{ARV/Pekin duck/China/Ych/2018(MK173037)}
\Lf{q11}{430.7}{761.3}{C}{ARV/Goose/China/03G/2003(JX145336.1)}
\Lf{q12}{430.7}{768}{C}{ARV/Pekin duck/China/HC/2006}
\Lf{q13}{430.7}{775}{C}{ARV/Wild mallard duck/China/SD-12/2012(KJ879632.1)}
\Lf{q14}{430.7}{782.3}{C}{ARV/Muscovy duck/China/J18/2008(JX478268.2)}
\Lf{q15}{430.7}{789.3}{C}{ARV/Muscovy duck/China/NP03/2009(GQ888713.1)}
\Lf{q16}{430.7}{795.8}{C}{ARV/Pekin duck/China/091/2009(JX478258.1)}
\Lf{q17}{430.7}{802.5}{C}{ARV/Muscovy duck/China/ZJ00M/2000(KF154118.1)}
\Lf{q18}{430.7}{809.3}{C}{ARV/Pekin duck/China/TH11/2011(JX528586.1)}
\Lf{q19}{418.3}{816.7}{none}{ARV/Turkey/Hungary/19831M09/2009(KR997907.1)}
\Lf{q20}{419.3}{823.5}{none}{ARV/Turkey/Hungary/D1246/2009(KR997917.1)}
\Lf{q21}{419.3}{830}{none}{ARV/Turkey/USA/22342/13/2013(KP173691.1)}
\Lf{q22}{418.3}{836.7}{none}{ARV/Chicken/USA/S1133(KF741764.1)}
\Lf{q23}{418.3}{843.3}{none}{ARV/Chicken/Canada/176(AF059720.1)}
\Lf{q24}{417.3}{849.7}{none}{ARV/Chicken/China/GX/2010/1(KJ476707.1)}
\Lf{q25}{420.7}{858.3}{none}{ARV/Chicken/Hungary/T1781/2010(KC865794.1)}
\Lf{q26}{420}{865}{none}{ARV/Chicken/Canada/138(AF059721.1)}
\Lf{q27}{420}{871.7}{none}{ARV/Chicken/USA/AVS-B/2006(FR694199.1)}
\Lf{q28}{473.3}{880.5}{none}{NBV/Pteropus poliocephalus/Australia/1970(AF059722.1)}
\Lf{q29}{472.7}{886.8}{none}{NBV/Human/Malaysiya/Sikamat/MYS/2010(JF811580.1)}
\Lf{q30}{472.7}{893}{none}{NBV/Pteropus hypomelanus/Malaysia(AY357733.1)}
\Nd{rR}{318.3}{840}{}
\Nd{rNB}{464}{883.3}{100}
\Nd{rNB1}{468.3}{889.8}{94}
\Nd{rN1}{400}{808.3}{}
\Nd{rN2}{420}{753.3}{}
\Nd{rYG}{428.3}{737.3}{}
\Nd{rY}{448.3}{716}{100}
\Nd{rY1}{451}{702}{70}
\Nd{rY2}{452}{694.3}{99}
\Nd{rY3}{451.5}{731}{99}
\Nd{rG}{470.5}{750.8}{100}
\Nd{rCy}{423.3}{785}{100}
\Nd{rCy1}{427}{778.7}{98}
\Nd{rCy2}{428}{805.8}{100}
\Nd{rK}{408.3}{844}{86}
\Nd{rT}{413.3}{823.3}{99}
\Nd{rC}{414}{843}{99}
\Nd{rC2}{416}{865}{91}
\Nd{rC3}{418}{868.3}{97}
\Br{rR}{rN1,rNB}
\Br{rNB}{q28,rNB1}
\Br{rNB1}{q29,q30}
\Br{rN1}{rN2,rK}
\Br{rN2}{rYG,rCy}
\Br{rYG}{rY,rG}
\Br{rG}{q9,q10}
\Br{rY}{rY1,q5,rY3,q8}
\Br{rY1}{rY2,q3,q4}
\Br{rY2}{q1,q2}
\Br{rY3}{q6,q7}
\Br{rCy}{q11,q12,rCy1,q15,q16,rCy2}
\Br{rCy1}{q13,q14}
\Br{rCy2}{q17,q18}
\Br{rK}{rT,rC,rC2}
\Br{rT}{q19,q20,q21}
\Br{rC}{q22,q23,q24}
\Br{rC2}{q25,rC3}
\Br{rC3}{q26,q27}
\Dt{476}{754.3}
\Sc{337.3}{362.3}{904}{0.5}{sH}
% ================= SigmaC =================
\node[ttl] (tI) at (32.3,919) {SigmaC};
\Lf{t1}{116}{920}{C}{ARV/Pekin duck/China/091/2009(JX478256.1)}
\Lf{t2}{116}{926.7}{C}{ARV/Wild mallard duck/China/SD-12/2012(KJ879630.1)}
\Lf{t3}{116}{933.3}{C}{ARV/Pekin duck/China/TH11/2011(KC493571.1)}
\Lf{t4}{116}{940.3}{C}{ARV/Muscovy duck/China/ZJ00M/2000(KF154116.1)}
\Lf{t5}{116}{948}{C}{ARV/Pekin duck/China/HC/2006}
\Lf{t6}{116}{955.3}{C}{ARV/Goose/China/03G/2003(JX145334.1)}
\Lf{t7}{116}{962.3}{C}{ARV/Muscovy duck/China/NP03/2009(KC312699.1)}
\Lf{t8}{116}{969.7}{C}{ARV/Muscovy duck/China/J18/2008(JX478266.1)}
\Lf{t9}{123.3}{977.3}{Y}{ARV/Goose/Hungary/D20/99/1999(KF809668.1)}
\Lf{t10}{123.3}{984.7}{Y}{ARV/Muscovy duck/China/ZJ2000M/2000(KF306091.1)}
\Lf{t11}{123.3}{992.5}{Y}{ARV/Muscovy duck/China/MW9710/1997(AY580159.1)}
\Lf{t12}{123.3}{999.7}{Y}{ARV/Muscovy duck/China/815-12/2010(KC508655.1)}
\Lf{t13}{123.3}{1007.3}{Y}{ARV/Muscovy duck/France/89026(AJ310525.1)}
\Lf{t14}{123.3}{1014.3}{Y}{ARV/Muscovy duck/France/D1546/2010(KJ871026.1)}
\Lf{t15}{123.3}{1021.5}{Y}{ARV/Muscovy duck/France/D2044/2012(KJ871016.1)}
\Lf{t16}{151.7}{1028.3}{G}{ARV/Pekin duck/Germany/D2533/6/1-10/2014(MH520091.1)}
\Lf{t17}{171.7}{1036.3}{G}{ARV/Pekin duck/China/Ych/2018(MK173035)}
\Lf{t18}{154}{1044.7}{none}{NBV/Human/Malaysiya/Sikamat/MYS/2010(JF811583.1)}
\Lf{t19}{163.3}{1051.7}{none}{NBV/Pteropus hypomelanus/Malaysia(AY357730.1)}
\Lf{t20}{150}{1059}{none}{NBV/Pteropus poliocephalus/Australia/1970(AF218360.1)}
\Lf{t21}{81.7}{1065.7}{none}{ARV/Chicken/USA/AVS-B/2006(FR694197.1)}
\Lf{t22}{76.7}{1072.7}{none}{ARV/Chicken/Hungary/T1781/2010(KC865792.1)}
\Lf{t23}{76}{1079.7}{none}{ARV/Turkey/Hungary/19831M09/2009(KR997905.1)}
\Lf{t24}{76}{1088}{none}{ARV/Turkey/Hungary/D1246/2009(KR997915.1)}
\Lf{t25}{73.3}{1095.7}{none}{ARV/Turkey/USA/22342/13/2013(KP173689.1)}
\Lf{t26}{78.3}{1103.3}{none}{ARV/Chicken/Canada/138(AF218359.1)}
\Lf{t27}{75}{1109.7}{none}{ARV/Chicken/USA/S1133(KF741762.1)}
\Lf{t28}{75}{1116.3}{none}{ARV/Chicken/Canada/176(AF218358.1)}
\Lf{t29}{75}{1123.3}{none}{ARV/Chicken/China/GX/2010/1(KJ476708.1)}
\Nd{uR}{1.7}{1030}{}
\Nd{uN1}{46}{1000.7}{100}
\Nd{uG}{150}{1032.3}{100}
\Nd{uD}{71.7}{970.7}{97}
\Nd{uC}{114.5}{949}{100}
\Nd{uC1}{115.3}{930}{72}
\Nd{uC2}{115.3}{959}{80}
\Nd{uC3}{115.6}{966}{90}
\Nd{uY}{116}{994}{100}
\Nd{uY1}{118.3}{987}{68}
\Nd{uY2}{119.5}{992}{65}
\Nd{uY3}{119}{1014}{99}
\Nd{uY4}{120.5}{1017.9}{100}
\Nd{uN2}{15}{1069}{}
\Nd{uNB}{113.3}{1050}{100}
\Nd{uNB1}{146.7}{1048}{98}
\Nd{uK}{35}{1082}{95}
\Nd{uK1}{40}{1100}{80}
\Nd{uT}{71.7}{1084}{99}
\Nd{uT1}{72.5}{1092}{100}
\Nd{uK2}{65}{1110}{88}
\Nd{uK3}{68}{1116}{99}
\Nd{uK4}{70}{1120}{85}
\Br{uR}{uN1,uN2}
\Br{uN1}{uD,uG}
\Br{uG}{t16,t17}
\Br{uD}{uC,uY}
\Br{uC}{uC1,t5,uC2}
\Br{uC1}{t1,t2,t3,t4}
\Br{uC2}{t6,uC3}
\Br{uC3}{t7,t8}
\Br{uY}{uY1,uY3}
\Br{uY1}{t9,uY2}
\Br{uY2}{t10,t11,t12}
\Br{uY3}{t13,uY4}
\Br{uY4}{t14,t15}
\Br{uN2}{uNB,uK}
\Br{uNB}{uNB1,t20}
\Br{uNB1}{t18,t19}
\Br{uK}{t21,t22,uK1}
\Br{uK1}{uT,uK2}
\Br{uT}{t23,uT1}
\Br{uT1}{t24,t25}
\Br{uK2}{t26,uK3}
\Br{uK3}{t27,uK4}
\Br{uK4}{t28,t29}
\Dt{167.7}{1036.3}
\Sc{21}{39.3}{1135.7}{0.2}{sI}
% ================= SigmaNS =================
\node[ttl] (tJ) at (358.7,938) {SigmaNS};
\Lf{v1}{473.3}{934.7}{C}{ARV/Pekin duck/China/091/2009(JX478259.1)}
\Lf{v2}{473.3}{941.3}{C}{ARV/Muscovy duck/China/ZJ00M/2000(KF154119.1)}
\Lf{v3}{473.3}{948}{C}{ARV/Muscovy duck/China/NP03/2009(GU356025.1)}
\Lf{v4}{473.3}{954.7}{C}{ARV/Wild mallard duck/China/SD-12/2012(KJ879633.1)}
\Lf{v5}{473.3}{961.7}{C}{ARV/Pekin duck/China/HC/2006}
\Lf{v6}{473.3}{969}{C}{ARV/Goose/China/03G/2003(JX145337.1)}
\Lf{v7}{473.3}{976.3}{C}{ARV/Pekin duck/China/TH11/2011(JX528589.1)}
\Lf{v8}{473.3}{983.3}{C}{ARV/Muscovy duck/China/J18/2008(JX478269.1)}
\Lf{v9}{472.7}{990.7}{Y}{ARV/Goose/Hungary/D20/99/1999(KF809671.1)}
\Lf{v10}{472.7}{997.7}{Y}{ARV/Muscovy duck/France/89026(AJ133122.1)}
\Lf{v11}{472.7}{1004.7}{Y}{ARV/Muscovy duck/China/ZJ2000M/2000(KF306090.1)}
\Lf{v12}{472.7}{1011.7}{Y}{ARV/Muscovy duck/China/815-12/2010(KC508656.1)}
\Lf{v13}{472.7}{1019.3}{Y}{ARV/Muscovy duck/France/D1546/2010(KJ871025.1)}
\Lf{v14}{472.7}{1027}{Y}{ARV/Muscovy duck/France/D2044/2012(KJ871015.1)}
\Lf{v15}{469.3}{1034}{none}{ARV/Chicken/TW-China/918/1992(AF294774.1)}
\Lf{v16}{469.3}{1040.7}{none}{ARV/Chicken/Hungary/T1781/2010(KC865795.1)}
\Lf{v17}{470}{1047.7}{none}{ARV/Turkey/Hungary/19831M09/2009(KR997908.1)}
\Lf{v18}{470.7}{1054.3}{none}{ARV/Turkey/USA/22342/13/2013(KP173692.1)}
\Lf{v19}{466.7}{1061.7}{none}{ARV/Chicken/Canada/138(AF059725.1)}
\Lf{v20}{466.7}{1068.3}{none}{ARV/Chicken/USA/AVS-B/2006(FR694200.1)}
\Lf{v21}{465}{1075.3}{none}{ARV/Chicken/China/GX/2010/1(KJ476709.1)}
\Lf{v22}{465}{1082}{none}{ARV/Chicken/USA/S1133(KF741765.1)}
\Lf{v23}{465}{1088.3}{none}{ARV/Chicken/Canada/176(AF059724.1)}
\Lf{v24}{438.3}{1095.7}{G}{ARV/Pekin duck/Germany/D2533/6/1-10/2014(MH520094.1)}
\Lf{v25}{441.7}{1102.7}{G}{ARV/Pekin duck/China/Ych/2018(MK173038)}
\Lf{v26}{471.7}{1111.3}{none}{NBV/Pteropus poliocephalus/Australia/1970(AF059726.1)}
\Lf{v27}{471.7}{1117.5}{none}{NBV/Pteropus hypomelanus/Malaysia(AY357732.1)}
\Lf{v28}{472.7}{1124.7}{none}{NBV/Human/Malaysiya/Sikamat/MYS/2010(JF811582.1)}
\Nd{wR}{315}{1095}{}
\Nd{wNB}{465}{1115}{100}
\Nd{wNB1}{469}{1121}{89}
\Nd{wN1}{397.3}{1077.3}{}
\Nd{wG}{436}{1099.3}{26}
\Nd{wN2}{461}{1060.7}{100}
\Nd{wD}{466}{1010}{}
\Nd{wC}{470.5}{962}{}
\Nd{wC1}{472}{938}{55}
\Nd{wC2}{472}{951.3}{95}
\Nd{wC3}{472}{976}{56}
\Nd{wY}{471}{1005}{91}
\Nd{wY1}{471.8}{1015}{94}
\Nd{wY2}{472.2}{1023.2}{97}
\Nd{wK}{463}{1061}{}
\Nd{wK1}{465.5}{1040}{51}
\Nd{wK2}{467.5}{1051}{99}
\Nd{wK3}{463.5}{1075}{100}
\Nd{wK4}{464.2}{1082}{}
\Br{wR}{wN1,wNB}
\Br{wNB}{v26,wNB1}
\Br{wNB1}{v27,v28}
\Br{wN1}{wN2,wG}
\Br{wG}{v24,v25}
\Br{wN2}{wD,wK}
\Br{wD}{wC,wY}
\Br{wC}{wC1,wC2,v5,wC3}
\Br{wC1}{v1,v2}
\Br{wC2}{v3,v4}
\Br{wC3}{v6,v7,v8}
\Br{wY}{v9,v10,wY1}
\Br{wY1}{v11,v12,wY2}
\Br{wY2}{v13,v14}
\Br{wK}{wK1,wK3}
\Br{wK1}{v15,v16,wK2}
\Br{wK2}{v17,v18}
\Br{wK3}{v19,v20,wK4}
\Br{wK4}{v21,v22,v23}
\Dt{439.3}{1102.7}
\Sc{335}{375}{1135.7}{2}{sJ}
\end{tikzpicture}
\end{document}
